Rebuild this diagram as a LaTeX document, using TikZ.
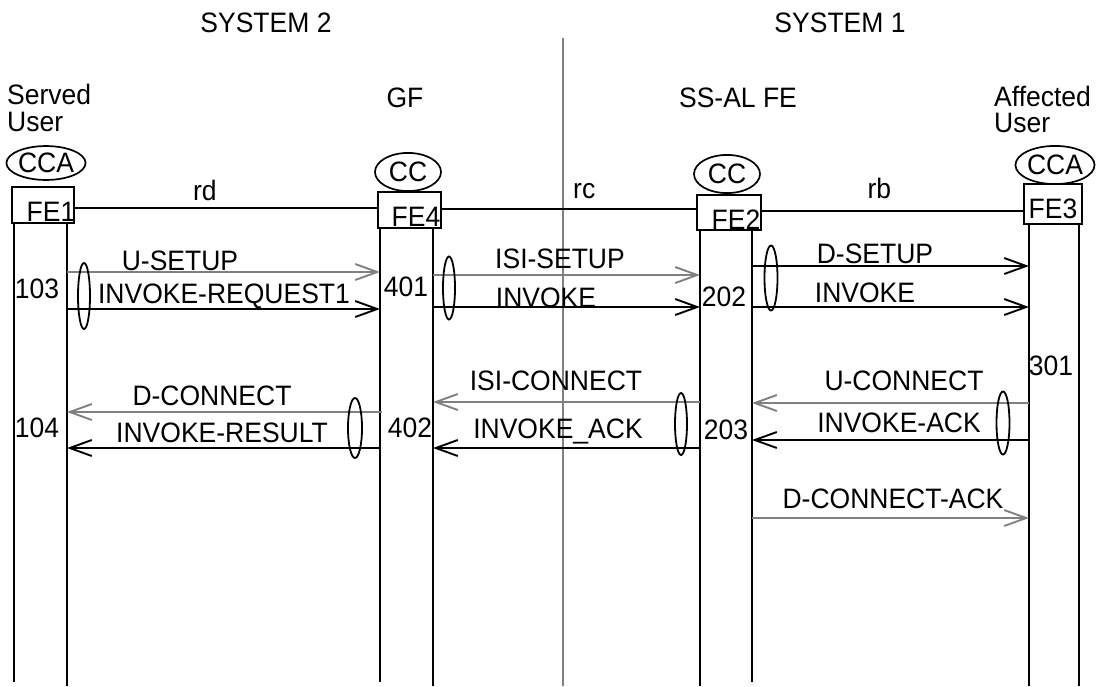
\documentclass[tikz,border=0pt]{standalone}
\usepackage{fontspec}
\setmainfont{Liberation Sans}
\usetikzlibrary{arrows.meta,shapes.geometric}
\begin{document}
\begin{tikzpicture}[x=1pt,y=-1pt,
  every node/.style={font=\fontsize{26.5}{31}\selectfont, inner sep=0pt},
  lbl/.style={anchor=base, yscale=1.06},
  lline/.style={line width=1.9pt},
  gline/.style={line width=2pt, draw=gray},
  febox/.style={draw, line width=1.9pt, rectangle, minimum width=#1, minimum height=36pt},
  ccell/.style={draw, ellipse, line width=1.7pt, minimum width=66pt, minimum height=36pt, yscale=1.06},
  grp/.style={draw, ellipse, line width=1.8pt, minimum width=12pt, minimum height=63pt},
  tip/.style={-{Straight Barb[length=22pt,width=16pt,line width=1.9pt]}},
  bmsg/.style={lline, tip},
  gmsg/.style={line width=2pt, draw=gray, tip, color=gray}
]
\useasboundingbox (0,0) rectangle (1098,686);

% titles
\node[lbl] (sys2) at (266,32) {SYSTEM 2};
\node[lbl] (sys1) at (840,32) {SYSTEM 1};
\node[lbl, anchor=base west] (served) at (7,104) {Served};
\node[lbl, anchor=base west] (suser) at (7,131) {User};
\node[lbl] (gf) at (405,107) {GF};
\node[lbl] (ssal) at (738,107) {SS-AL FE};
\node[lbl, anchor=base west] (affected) at (994,106) {Affected};
\node[lbl, anchor=base west] (auser) at (994,132) {User};

% centre divider
\coordinate (divtop) at (563,38);
\coordinate (divbot) at (563,686);
\draw[gline] (divtop) -- (divbot);

% CC / CCA ellipses
\node[ccell, minimum width=64pt, minimum height=32pt] (cca1) at (46,163) {CCA};
\node[ccell] (cc4) at (408,172) {CC};
\node[ccell] (cc2) at (727,174) {CC};
\node[ccell] (cca3) at (1055,165) {CCA};

% FE boxes
\node[febox=62pt, minimum height=36pt] (fe1) at (43,205) {};
\node[lbl] (fe1t) at (51,221) {FE1};
\node[febox=63pt, minimum height=36pt] (fe4) at (409.5,210) {};
\node[lbl] (fe4t) at (416,226) {FE4};
\node[febox=64pt, minimum height=35pt] (fe2) at (729,212.5) {};
\node[lbl] (fe2t) at (736,229) {FE2};
\node[febox=58pt, minimum height=40pt] (fe3) at (1053,204) {};
\node[lbl] (fe3t) at (1053,218) {FE3};

% reference points
\draw[lline] (fe1.east |- 0,208) -- node[lbl, above=6pt, pos=0.43] (rd) {rd} (fe4.west |- 0,208);
\draw[lline] (fe4.east |- 0,209) -- node[lbl, above=9pt, pos=0.56] (rc) {rc} (fe2.west |- 0,209);
\draw[lline] (fe2.east |- 0,211) -- node[lbl, above=11pt, pos=0.45] (rb) {rb} (fe3.west |- 0,211);

% lifelines
\coordinate (l1a) at (14,223);  \coordinate (l1b) at (67,223);
\coordinate (l4a) at (380,228); \coordinate (l4b) at (433,228);
\coordinate (l2a) at (700,230); \coordinate (l2b) at (752,230);
\coordinate (l3a) at (1029,224); \coordinate (l3b) at (1079,224);
\coordinate (bot) at (0,686);
\coordinate (bot2) at (0,682);
\draw[lline] (l1a) -- (l1a |- bot2);
\draw[lline] (l1b) -- (l1b |- bot);
\draw[lline] (l4a) -- (l4a |- bot2);
\draw[lline] (l4b) -- (l4b |- bot);
\draw[lline] (l2a) -- (l2a |- bot);
\draw[lline] (l2b) -- (l2b |- bot2);
\draw[lline] (l3a) -- (l3a |- bot);
\draw[lline] (l3b) -- (l3b |- bot);

% numbers
\node[lbl] (n103) at (37,298) {103};
\node[lbl] (n104) at (37,437) {104};
\node[lbl] (n401) at (406,296) {401};
\node[lbl] (n402) at (410,437) {402};
\node[lbl] (n202) at (724,306) {202};
\node[lbl] (n203) at (726,439) {203};
\node[lbl] (n301) at (1051,375) {301};

% FE1 -> FE4
\draw[gmsg] (l1b |- 0,272) -- (l4a |- 0,272);
\draw[bmsg] (l1b |- 0,309) -- (l4a |- 0,309);
\node[lbl] (m1) at (180,270) {U-SETUP};
\node[lbl] (m2) at (224,303) {INVOKE-REQUEST1};
\node[grp, minimum height=66pt] (g1) at (84,296) {};

% FE4 -> FE2
\draw[gmsg] (l4b |- 0,275) -- (l2a |- 0,275);
\draw[bmsg] (l4b |- 0,307) -- (l2a |- 0,307);
\node[lbl] (m3) at (560,268) {ISI-SETUP};
\node[lbl] (m4) at (546,307) {INVOKE};
\node[grp] (g2) at (449,288) {};

% FE2 -> FE3
\draw[bmsg] (l2b |- 0,266) -- (l3a |- 0,266);
\draw[bmsg] (l2b |- 0,307) -- (l3a |- 0,307);
\node[lbl] (m5) at (875,263) {D-SETUP};
\node[lbl] (m6) at (865,302) {INVOKE};
\node[grp, minimum height=65pt, minimum width=13pt] (g3) at (771,278) {};

% FE4 -> FE1
\draw[gmsg] (382,412) -- (l1b |- 0,412);
\draw[bmsg] (l4a |- 0,448) -- (l1b |- 0,448);
\node[lbl] (m7) at (212,405) {D-CONNECT};
\node[lbl] (m8) at (222,442) {INVOKE-RESULT};
\node[grp, minimum height=60pt, minimum width=14pt] (g4) at (355,428) {};

% FE2 -> FE4
\draw[gmsg] (l2a |- 0,402) -- (l4b |- 0,402);
\draw[bmsg] (l2a |- 0,448) -- (l4b |- 0,448);
\node[lbl] (m9) at (556,390) {ISI-CONNECT};
\node[lbl] (m10) at (558,438) {INVOKE\_ACK};
\node[grp, minimum height=62pt] (g5) at (681,424) {};

% FE3 -> FE2
\draw[gmsg] (l3a |- 0,403) -- (l2b |- 0,403);
\draw[bmsg] (l3a |- 0,440) -- (l2b |- 0,440);
\node[lbl] (m11) at (904,390) {U-CONNECT};
\node[lbl] (m12) at (899,432) {INVOKE-ACK};
\node[grp, minimum width=13pt] (g6) at (1003,423) {};

% FE2 -> FE3
\draw[gmsg] (l2b |- 0,518) -- (l3a |- 0,518);
\node[lbl] (m13) at (893,508) {D-CONNECT-ACK};
\end{tikzpicture}
\end{document}
